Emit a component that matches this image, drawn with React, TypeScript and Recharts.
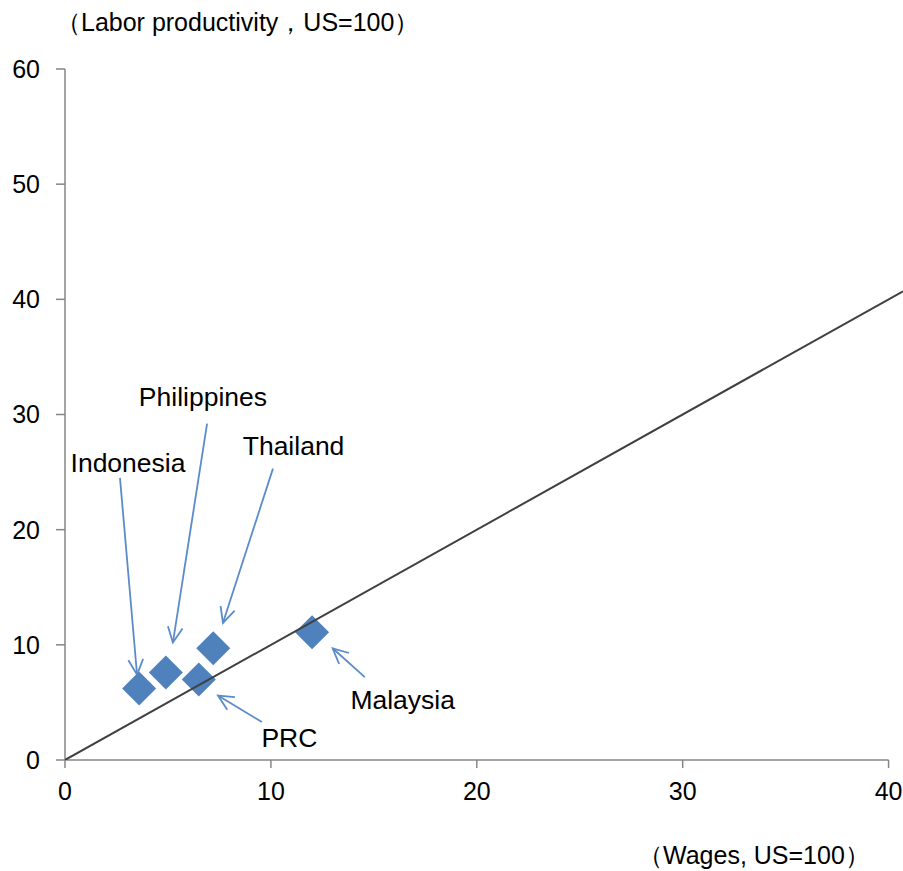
import React from 'react';
import { ScatterChart, Scatter, XAxis, YAxis, ReferenceLine } from 'recharts';

const countries = ['Indonesia', 'Philippines', 'PRC', 'Thailand', 'Malaysia'];
const wages = [3.6, 4.9, 6.5, 7.2, 12.0];
const productivity = [6.2, 7.6, 7.0, 9.7, 11.1];

const parityX = [0, 40.7];
const xTicks = [0, 10, 20, 30, 40];
const yTicks = [0, 10, 20, 30, 40, 50, 60];

// label anchor and arrow (from -> to) in data units
const labelPos = [
  { name: 'Indonesia', x: 3.06, y: 25.8, fx: 2.67, fy: 24.5, tx: 3.5, ty: 7.4 },
  { name: 'Philippines', x: 6.7, y: 31.5, fx: 6.9, fy: 29.2, tx: 5.24, ty: 10.2 },
  { name: 'Thailand', x: 11.1, y: 27.3, fx: 10.1, fy: 25.3, tx: 7.67, ty: 11.9 },
  { name: 'PRC', x: 10.9, y: 1.9, fx: 9.56, fy: 3.3, tx: 7.43, ty: 5.6 },
  { name: 'Malaysia', x: 16.4, y: 5.2, fx: 14.56, fy: 7.2, tx: 13.0, ty: 9.7 },
];

const points = countries.map((c, i) => ({ name: c, x: wages[i], y: productivity[i] }));
const parity = parityX.map((v) => ({ x: v, y: v }));

const BLUE = '#4f81bd';
const ARROW = '#5b8cc8';
const FONT = '"Liberation Sans", Arial, sans-serif';

const Diamond = (props: any) => {
  const { cx, cy } = props;
  const r = 17;
  return <polygon points={`${cx},${cy - r} ${cx + r},${cy} ${cx},${cy + r} ${cx - r},${cy}`} fill={BLUE} />;
};

const LabelText = (props: any) => {
  const { cx, cy, payload } = props;
  return (
    <text x={cx} y={cy} textAnchor="middle" dominantBaseline="central" fontSize={26.5} fill="#000" fontFamily={FONT}>
      {payload.name}
    </text>
  );
};

const Arrow = (props: any) => {
  const { x1, y1, x2, y2 } = props;
  const ang = Math.atan2(y2 - y1, x2 - x1);
  const len = 17;
  const spread = 0.45;
  const ax = x2 - len * Math.cos(ang - spread);
  const ay = y2 - len * Math.sin(ang - spread);
  const bx = x2 - len * Math.cos(ang + spread);
  const by = y2 - len * Math.sin(ang + spread);
  return (
    <g>
      <line x1={x1} y1={y1} x2={x2} y2={y2} stroke={ARROW} strokeWidth={1.8} />
      <polyline points={`${ax},${ay} ${x2},${y2} ${bx},${by}`} fill="none" stroke={ARROW} strokeWidth={1.8} />
    </g>
  );
};

const App: React.FC = () => {
  return (
    <div style={{ position: 'absolute', left: 0, top: 0, width: 903, height: 871, background: '#fff', fontFamily: FONT }}>
      <div style={{ position: 'absolute', left: 56, top: 6, fontSize: 25, color: '#000', whiteSpace: 'nowrap' }}>
        （Labor productivity，US=100）
      </div>
      <div style={{ position: 'absolute', left: 638, top: 839, fontSize: 25, color: '#000', whiteSpace: 'nowrap' }}>
        （Wages, US=100）
      </div>
      <ScatterChart width={903} height={871} margin={{ top: 69, right: 0, bottom: 0, left: 0 }}>
        <XAxis
          type="number"
          dataKey="x"
          domain={[0, 40.7]}
          ticks={xTicks}
          axisLine={false}
          tickLine={{ stroke: '#868686', strokeWidth: 1.5 }}
          tickSize={8}
          tickMargin={14}
          tick={{ fontSize: 25, fill: '#000', fontFamily: FONT }}
          height={111}
          allowDataOverflow
        />
        <YAxis
          type="number"
          dataKey="y"
          domain={[0, 60]}
          ticks={yTicks}
          axisLine={{ stroke: '#868686', strokeWidth: 1.5 }}
          tickLine={{ stroke: '#868686', strokeWidth: 1.5 }}
          tickSize={9}
          tickMargin={16}
          tick={{ fontSize: 25, fill: '#000', fontFamily: FONT }}
          width={65}
          allowDataOverflow
        />
        <ReferenceLine
          segment={[{ x: 0, y: 0 }, { x: 40, y: 0 }]}
          stroke="#868686"
          strokeWidth={1.5}
        />
        <Scatter data={points} shape={<Diamond />} isAnimationActive={false} />
        <Scatter
          data={parity}
          line={{ stroke: '#404040', strokeWidth: 2 }}
          shape={() => null}
          isAnimationActive={false}
        />
        {labelPos.map((a) => (
          <ReferenceLine
            key={a.name}
            segment={[{ x: a.fx, y: a.fy }, { x: a.tx, y: a.ty }]}
            shape={<Arrow />}
          />
        ))}
        <Scatter data={labelPos} shape={<LabelText />} isAnimationActive={false} />
      </ScatterChart>
    </div>
  );
};

export default App;
